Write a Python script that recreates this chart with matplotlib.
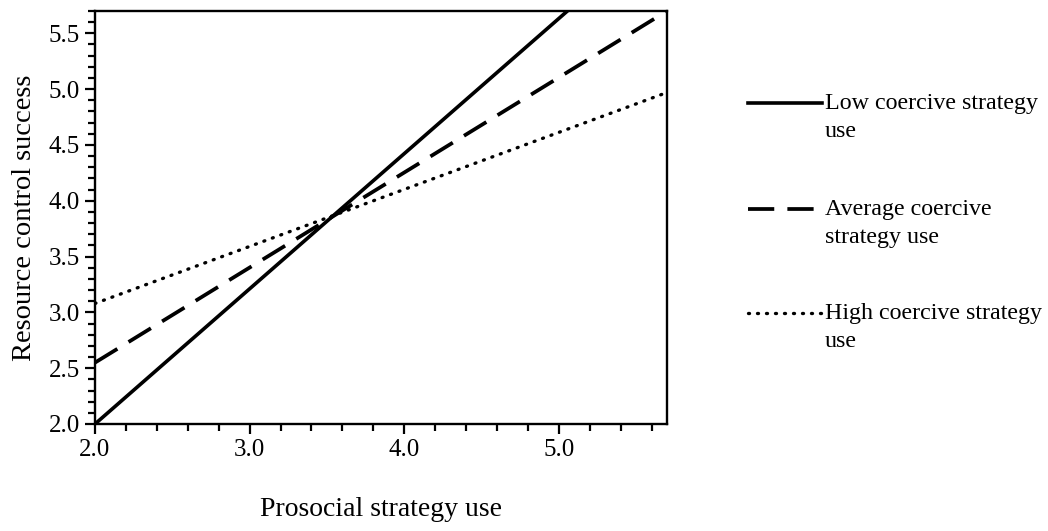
import matplotlib.pyplot as plt
from matplotlib.lines import Line2D
from matplotlib.ticker import MultipleLocator

plt.rcParams['font.family'] = ['Liberation Serif', 'DejaVu Serif']
plt.rcParams['font.size'] = 18

# end points of the simple slopes
prosocial = [2.0, 5.7]
low_coercive = [2.0, 6.48]
avg_coercive = [2.55, 5.70]
high_coercive = [3.08, 4.97]

series_labels = ['Low coercive strategy\nuse',
                 'Average coercive\nstrategy use',
                 'High coercive strategy\nuse']

x_ticks = [2.0, 3.0, 4.0, 5.0]
y_ticks = [2.0, 2.5, 3.0, 3.5, 4.0, 4.5, 5.0, 5.5]

styles = [
    dict(linestyle='-', linewidth=2.6),
    dict(linestyle=(0, (7, 3.5)), linewidth=2.7),
    dict(linestyle=(0, (0.3, 2.4)), linewidth=2.4, dash_capstyle='round'),
]

fig = plt.figure(figsize=(10.48, 5.31), dpi=100)
ax = fig.add_axes([95 / 1048, 1 - 424 / 531, 572 / 1048, 413 / 531])

for ys, st in zip([low_coercive, avg_coercive, high_coercive], styles):
    ax.plot(prosocial, ys, color='black', **st)

ax.set_xlim(2.0, 5.7)
ax.set_ylim(2.0, 5.7)
ax.set_xticks(x_ticks)
ax.set_xticklabels([f'{v:.1f}' for v in x_ticks])
ax.set_yticks(y_ticks)
ax.set_yticklabels([f'{v:.1f}' for v in y_ticks])
ax.xaxis.set_minor_locator(MultipleLocator(0.2))
ax.yaxis.set_minor_locator(MultipleLocator(0.1))
ax.tick_params(which='major', direction='out', length=7, width=1.6, labelsize=18)
ax.tick_params(which='minor', direction='out', length=5, width=1.6)
ax.tick_params(axis='x', pad=4)
ax.tick_params(axis='y', pad=4)
for sp in ax.spines.values():
    sp.set_linewidth(1.7)

ax.set_xlabel('Prosocial strategy use', fontsize=20, labelpad=26)
ax.set_ylabel('Resource control success', fontsize=20.5, labelpad=8)

# legend drawn by hand so the handle sits on the first text line
leg_y = [103, 209, 313]
for yy, lab, st in zip(leg_y, series_labels, styles):
    fy = 1 - yy / 531
    fig.add_artist(Line2D([748 / 1048, 822 / 1048], [fy, fy], color='black',
                          transform=fig.transFigure, **st))
    fig.text(825 / 1048, fy + 10 / 531, lab, ha='left', va='top',
             fontsize=17.3, linespacing=1.45)

fig.savefig('out.png', dpi=100)
